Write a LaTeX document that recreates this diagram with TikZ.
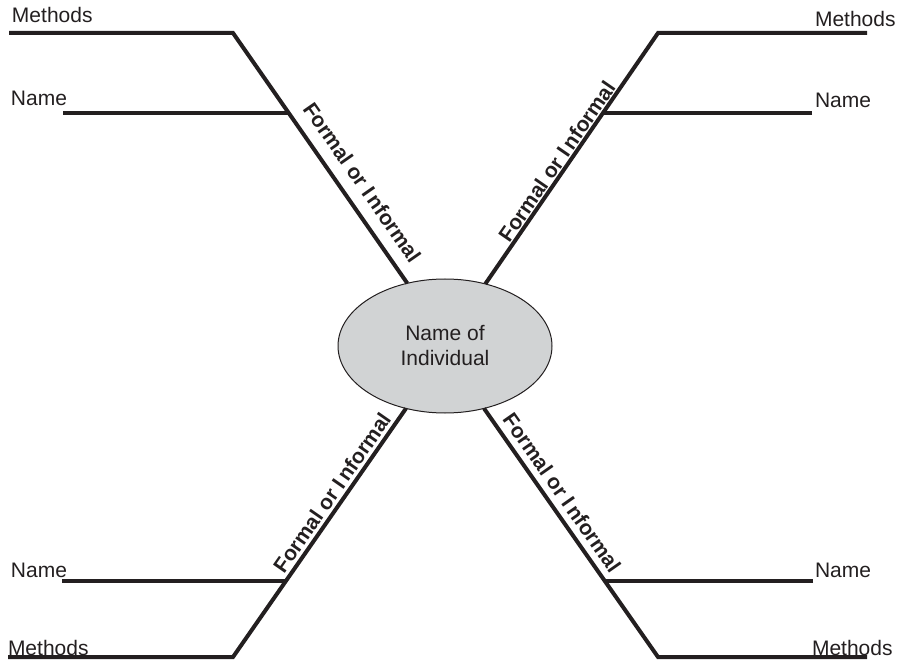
\documentclass[tikz,border=0pt]{standalone}
\usepackage{fontspec}
\setmainfont{Liberation Sans}
\usetikzlibrary{shapes.geometric}
\definecolor{ink}{HTML}{231F20}
\definecolor{fillgray}{HTML}{D1D3D4}
\begin{document}
\begin{tikzpicture}[x=0.75pt,y=0.75pt,
  font=\fontsize{15.75}{18.75}\selectfont,
  branch/.style={line width=3pt, draw=ink},
  lbl/.style={inner sep=0pt, outer sep=0pt, anchor=base west, text=ink},
  fol/.style={font=\fontsize{15.75}{18.75}\selectfont\bfseries, inner sep=0pt, outer sep=0pt, sloped, text=ink},
  hub/.style={ellipse, draw=ink, line width=0.75pt, fill=fillgray, inner sep=0pt, outer sep=0pt,
    minimum width=160.5pt, minimum height=100.5pt, align=center, text=ink}]
\useasboundingbox (0,0) rectangle (902,661);
% centre
\node[hub] (ell) at (445,315) {Name of\\Individual};
% corners and name-line ends
\coordinate (cTL) at (233,628);
\coordinate (mTL) at (9,628);
\coordinate (nTLa) at (63,548);
\coordinate (nTLb) at (288.7,548);
\coordinate (cTR) at (658,628);
\coordinate (mTR) at (867,628);
\coordinate (nTRa) at (812,548);
\coordinate (nTRb) at (602.6,548);
\coordinate (cBL) at (233,4);
\coordinate (mBL) at (8,4);
\coordinate (nBLa) at (62,80);
\coordinate (nBLb) at (286.1,80);
\coordinate (cBR) at (658,4);
\coordinate (mBR) at (867,4);
\coordinate (nBRa) at (813,80);
\coordinate (nBRb) at (605.2,80);
% branches
\draw[branch] (mTL) -- (cTL) -- (ell.121);
\draw[branch] (nTLa) -- (nTLb);
\draw[branch] (mTR) -- (cTR) -- (ell.57.6);
\draw[branch] (nTRa) -- (nTRb);
\draw[branch] (mBL) -- (cBL) -- (ell.238.5);
\draw[branch] (nBLa) -- (nBLb);
\draw[branch] (mBR) -- (cBR) -- (ell.302.8);
\draw[branch] (nBRa) -- (nBRb);
% slanted labels
\path (cTL) -- (ell.121) node[fol, pos=0.644, above=9.75pt] (fTL) {Formal or I\hspace{0.15em}nformal};
\path (ell.57.6) -- (cTR) node[fol, pos=0.465, above=2.25pt] (fTR) {Formal or I\hspace{0.15em}nformal};
\path (cBL) -- (ell.238.5) node[fol, pos=0.632, above=3.75pt] (fBL) {Formal or I\hspace{0.15em}nformal};
\path (ell.302.8) -- (cBR) node[fol, pos=0.375, above=6pt] (fBR) {Formal or I\hspace{0.15em}nformal};
% end labels
\node[lbl] (tMTL) at (12,638) {Methods};
\node[lbl] (tNTL) at (11,555) {Name};
\node[lbl] (tMTR) at (815,634) {Methods};
\node[lbl] (tNTR) at (815,553) {Name};
\node[lbl] (tNBL) at (11,84) {Name};
\node[lbl] (tMBL) at (8,6) {Methods};
\node[lbl] (tNBR) at (815,84) {Name};
\node[lbl] (tMBR) at (812,6) {Methods};
\end{tikzpicture}
\end{document}
